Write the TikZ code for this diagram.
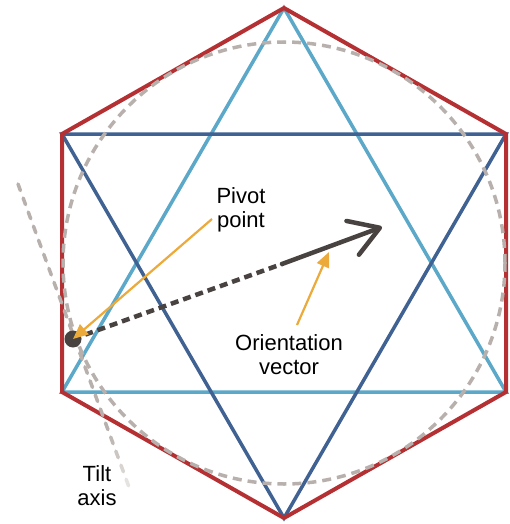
\documentclass[tikz,border=0pt]{standalone}
\usepackage{fontspec}
\setmainfont{Liberation Sans}
\usetikzlibrary{arrows.meta,calc}

\definecolor{hexred}{RGB}{181,48,50}
\definecolor{lightblue}{RGB}{92,168,201}
\definecolor{darkblue}{RGB}{64,98,146}
\definecolor{guidegray}{RGB}{184,176,172}
\definecolor{vecgray}{RGB}{72,67,64}
\definecolor{calloutorange}{RGB}{236,170,58}

\tikzset{
  hexedge/.style={draw=hexred, line width=4pt, line join=miter},
  upTri/.style={draw=lightblue, line width=3.5pt, line join=miter},
  downTri/.style={draw=darkblue, line width=3.5pt, line join=miter},
  guidecircle/.style={draw=guidegray, line width=3.5pt, dash pattern=on 9pt off 6pt},
  tiltdash/.style={draw=guidegray, line width=3.5pt, line cap=round},
  vecdashed/.style={draw=vecgray, line width=4.5pt, dash pattern=on 8pt off 5pt},
  vecsolid/.style={draw=vecgray, line width=4.5pt, line cap=round,
    -{Straight Barb[length=29pt, width=36pt, line cap=round, line join=round]}},
  callout/.style={draw=calloutorange, line width=2.2pt,
    -{Triangle[length=15pt, width=13pt]}},
  label/.style={font=\fontsize{22}{24}\selectfont, align=center, inner sep=0pt, anchor=base},
  pivotdot/.style={circle, fill=vecgray, minimum size=17pt, inner sep=0pt}
}

\begin{document}
\begin{tikzpicture}[x=1pt, y=-1pt]
\useasboundingbox[fill=white] (0,0) rectangle (509,524);

% hexagon corners
\coordinate (T)  at (284,8);
\coordinate (UR) at (506,134);
\coordinate (LR) at (506,392);
\coordinate (B)  at (284,518);
\coordinate (LL) at (62,392);
\coordinate (UL) at (62,134);
\coordinate (C)  at (284,263);

% the two triangles of the star
\draw[upTri] (T) -- (LR) -- (LL) -- cycle;
\draw[downTri] (UL) -- (UR) -- (B) -- cycle;

% outer hexagon
\draw[hexedge] (T) -- (UR) -- (LR) -- (B) -- (LL) -- (UL) -- cycle;

% inscribed dashed circle
\draw[guidecircle] (C) circle[radius=221pt];

% tilt axis, fading out towards its lower end
\coordinate (tiltA) at (18,184);
\coordinate (tiltB) at (133,498);
\foreach \i in {0,...,21} {
  \pgfmathsetmacro\ta{\i*15/335}
  \pgfmathsetmacro\tb{min(1,(\i*15+7)/335)}
  \pgfmathsetmacro\op{min(1,max(0.15,1-(\ta-0.78)*4))}
  \draw[tiltdash, draw opacity=\op] ($(tiltA)!\ta!(tiltB)$) -- ($(tiltA)!\tb!(tiltB)$);
}

% pivot point and orientation vector
\node[pivotdot] (pivot) at (73,339) {};
\coordinate (vecmid) at (282,264);
\coordinate (vectip) at (382,227);
\draw[vecdashed] (pivot.center) -- (vecmid);
\draw[vecsolid] (vecmid) -- (vectip);

% labels (anchored at the baseline of their last line)
\node[label] (pivotlabel) at (241,227) {Pivot\\point};
\node[label] (orientlabel) at (289,374) {Orientation\\vector};
\node[label] (tiltlabel) at (97,505) {Tilt\\axis};

% callout arrows
\coordinate (pivotcallout) at (212,219);
\coordinate (orientcallout) at (297,325);
\coordinate (orienttarget) at (329,252);
\draw[callout] (pivotcallout) -- (pivot.center);
\draw[callout] (orientcallout) -- (orienttarget);
\end{tikzpicture}
\end{document}
